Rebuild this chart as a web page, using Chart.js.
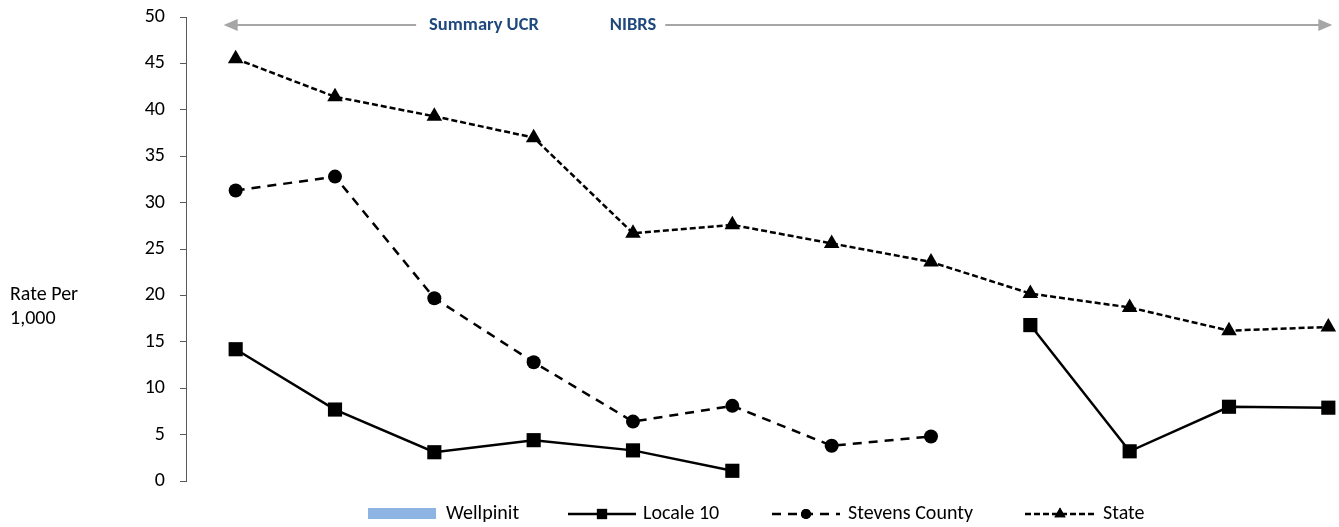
<!DOCTYPE html>
<html>
<head>
<meta charset="utf-8">
<script src="https://cdn.jsdelivr.net/npm/chart.js@4/dist/chart.umd.min.js"></script>
<style>
  html, body { margin: 0; padding: 0; background: #fff; overflow: hidden; }
  #wrap { width: 1400px; height: 527px; }
</style>
</head>
<body>
<div id="wrap"><canvas id="c" width="1400" height="527"></canvas></div>
<script>
// Reporting periods (twelve years, first eight Summary UCR, last four NIBRS)
const periods = ['1', '2', '3', '4', '5', '6', '7', '8', '9', '10', '11', '12'];

// Rates per 1,000 residents
const wellpinit     = [null, null, null, null, null, null, null, null, null, null, null, null];
const locale10      = [14.2, 7.7, 3.1, 4.4, 3.3, 1.1, null, null, 16.8, 3.2, 8.0, 7.9];
const stevensCounty = [31.3, 32.8, 19.7, 12.8, 6.4, 8.1, 3.8, 4.8, null, null, null, null];
const state         = [45.5, 41.4, 39.3, 37.0, 26.7, 27.6, 25.6, 23.6, 20.2, 18.7, 16.2, 16.6];

const yTicks = [0, 5, 10, 15, 20, 25, 30, 35, 40, 45, 50];

const FONT = "Carlito, Lato, 'Liberation Sans', sans-serif";
const FONT_SIZE = 20;

// Period banner across the top, y-axis caption and custom legend
const decorations = {
  id: 'decorations',
  afterDraw(chart) {
    const ctx = chart.ctx;
    const x = chart.scales.x;
    ctx.save();

    // Banner: double-headed arrow with the two reporting-system names
    const ay = 25;
    const left = x.getPixelForValue(0) - 12;
    const right = x.getPixelForValue(11) + 4;
    ctx.font = "bold 18.5px " + FONT;
    ctx.textBaseline = 'middle';
    ctx.textAlign = 'center';
    const t1 = 'Summary UCR', t2 = 'NIBRS';
    const c1 = x.getPixelForValue(2.5), c2 = x.getPixelForValue(4);
    const w1 = ctx.measureText(t1).width, w2 = ctx.measureText(t2).width;
    ctx.fillStyle = '#1F497D';
    ctx.fillText(t1, c1, ay);
    ctx.fillText(t2, c2, ay);

    ctx.strokeStyle = '#A6A6A6';
    ctx.fillStyle = '#A6A6A6';
    ctx.lineWidth = 2;
    ctx.beginPath();
    ctx.moveTo(left + 12, ay); ctx.lineTo(c1 - w1 / 2 - 13, ay);
    ctx.moveTo(c2 + w2 / 2 + 9, ay); ctx.lineTo(right - 12, ay);
    ctx.stroke();
    ctx.beginPath();
    ctx.moveTo(left, ay); ctx.lineTo(left + 14, ay - 6); ctx.lineTo(left + 14, ay + 6); ctx.closePath();
    ctx.moveTo(right, ay); ctx.lineTo(right - 14, ay - 6); ctx.lineTo(right - 14, ay + 6); ctx.closePath();
    ctx.fill();

    // Y-axis caption
    ctx.font = FONT_SIZE + "px " + FONT;
    ctx.fillStyle = '#000';
    ctx.textAlign = 'left';
    ctx.fillText('Rate Per', 10, 295);
    ctx.fillText('1,000', 10, 319);

    // Legend
    const ly = 514;
    const ds = chart.data.datasets;
    const items = [
      { d: ds[0], x0: 368, x1: 436, tx: 446 },
      { d: ds[1], x0: 568, x1: 636, tx: 643 },
      { d: ds[2], x0: 772, x1: 840, tx: 848 },
      { d: ds[3], x0: 1025, x1: 1095, tx: 1103 }
    ];
    items.forEach((it, i) => {
      const d = it.d;
      if (i === 0) {
        ctx.fillStyle = d.backgroundColor;
        ctx.fillRect(it.x0, ly - 6, it.x1 - it.x0, 11);
      } else {
        ctx.strokeStyle = d.borderColor;
        ctx.lineWidth = d.borderWidth;
        ctx.setLineDash(d.borderDash || []);
        ctx.beginPath();
        ctx.moveTo(it.x0, ly); ctx.lineTo(it.x1, ly);
        ctx.stroke();
        ctx.setLineDash([]);
        Chart.helpers.drawPoint(ctx, {
          pointStyle: d.pointStyle, radius: d.pointRadius * 0.72,
          borderWidth: 0, rotation: 0
        }, (it.x0 + it.x1) / 2, ly);
        ctx.fillStyle = d.pointBackgroundColor;
        ctx.fill();
      }
      ctx.fillStyle = '#000';
      ctx.font = FONT_SIZE + "px " + FONT;
      ctx.textAlign = 'left';
      ctx.fillText(d.label, it.tx, ly);
    });
    ctx.restore();
  }
};

new Chart(document.getElementById('c'), {
  data: {
    labels: periods,
    datasets: [
      { type: 'bar', label: 'Wellpinit', data: wellpinit, backgroundColor: '#8EB4E3', order: 4 },
      { type: 'line', label: 'Locale 10', data: locale10, borderColor: '#000', borderWidth: 2.5,
        pointStyle: 'rect', pointRadius: 10, pointBackgroundColor: '#000', pointBorderWidth: 0,
        spanGaps: false, order: 1 },
      { type: 'line', label: 'Stevens County', data: stevensCounty, borderColor: '#000', borderWidth: 2.5,
        borderDash: [9, 7], pointStyle: 'circle', pointRadius: 7, pointBackgroundColor: '#000',
        pointBorderWidth: 0, spanGaps: false, order: 2 },
      { type: 'line', label: 'State', data: state, borderColor: '#000', borderWidth: 2.5,
        borderDash: [6, 3], pointStyle: 'triangle', pointRadius: 9, pointBackgroundColor: '#000',
        pointBorderWidth: 0, spanGaps: false, order: 3 }
    ]
  },
  options: {
    responsive: false,
    animation: false,
    layout: { padding: { top: 17, bottom: 46, left: 0, right: 22 } },
    plugins: { legend: { display: false }, tooltip: { enabled: false } },
    scales: {
      x: { display: false, offset: true },
      y: {
        min: 0, max: 50,
        afterBuildTicks(scale) { scale.ticks = yTicks.map(v => ({ value: v })); },
        afterFit(scale) { scale.width = 186; scale.paddingTop = 0; scale.paddingBottom = 0; },
        border: { display: true, color: '#595959', width: 1 },
        grid: { drawOnChartArea: false, drawTicks: true, tickLength: 6, color: '#595959' },
        ticks: { color: '#000', padding: 15, font: { family: FONT, size: FONT_SIZE } }
      }
    }
  },
  plugins: [decorations]
});
</script>
</body>
</html>
